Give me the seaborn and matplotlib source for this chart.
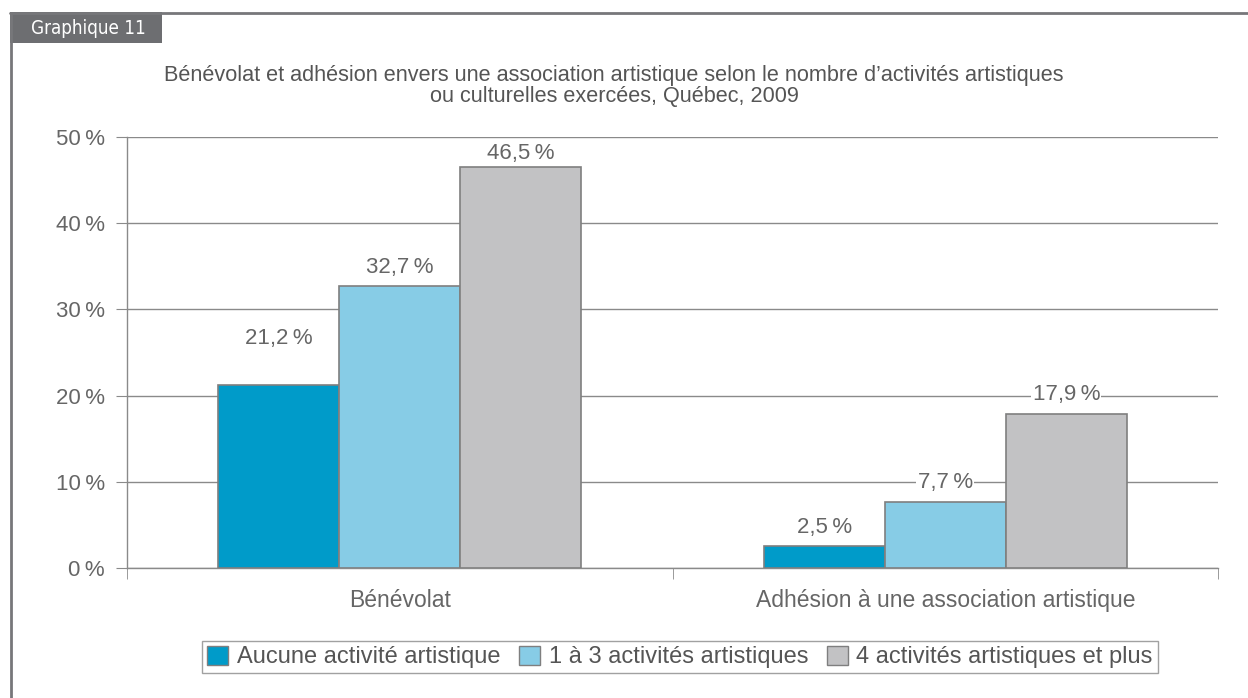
import pandas as pd
import seaborn as sns
import matplotlib.pyplot as plt
from matplotlib.lines import Line2D
from matplotlib.patches import Rectangle
from matplotlib.ticker import FuncFormatter, FixedLocator

categories = ["Bénévolat", "Adhésion à une association artistique"]
groupes = ["Aucune activité artistique", "1 à 3 activités artistiques", "4 activités artistiques et plus"]
aucune = [21.2, 2.5]
un_a_trois = [32.7, 7.7]
quatre_plus = [46.5, 17.9]
couleurs = ["#009bc9", "#87cce6", "#c2c2c4"]

rows = []
for g, vals in zip(groupes, [aucune, un_a_trois, quatre_plus]):
    for c, v in zip(categories, vals):
        rows.append({"categorie": c, "groupe": g, "valeur": v})
df = pd.DataFrame(rows)

sns.set_style("white")
plt.rcParams['font.family'] = ['Liberation Sans', 'DejaVu Sans']
gris = "#666666"
ligne = "#8a8a8a"
W, H = 1248, 698

fig = plt.figure(figsize=(W / 100, H / 100), dpi=100)
ax = fig.add_axes([127 / W, 1 - 568 / H, (1218 - 127) / W, (568 - 137) / H])

sns.barplot(data=df, x="categorie", y="valeur", hue="groupe", hue_order=groupes,
            order=categories, palette=couleurs, saturation=1, width=0.666, gap=0,
            edgecolor="#7f7f7f", linewidth=1.2, ax=ax, zorder=3)

ax.set_ylim(0, 50)
ax.set_xlim(-0.5, 1.5)
ax.set_yticks([0, 10, 20, 30, 40, 50])
ax.yaxis.set_major_formatter(FuncFormatter(lambda v, p: f"{int(v)}\u2009%"))
ax.grid(axis="y", color=ligne, linewidth=1, zorder=0)
ax.set_axisbelow(True)
for s in ["top", "right"]:
    ax.spines[s].set_visible(False)
for s in ["left", "bottom"]:
    ax.spines[s].set_color(ligne)
    ax.spines[s].set_linewidth(1)
ax.tick_params(axis="y", length=8, color=ligne, labelsize=16, labelcolor=gris, pad=8, left=True)
ax.tick_params(axis="x", which="major", length=0, labelsize=16.5, labelcolor=gris, pad=15)
ax.xaxis.set_minor_locator(FixedLocator([-0.5, 0.5, 1.5]))
ax.tick_params(axis="x", which="minor", length=8, color=ligne, bottom=True)
ax.set_xlabel("")
ax.set_ylabel("")

# décalage des étiquettes (par groupe, par catégorie), en points
decalage = [[26, 6], [6, 6], [2, 6]]
for cont, pads in zip(ax.containers, decalage):
    for bar, v, p in zip(cont, cont.datavalues, pads):
        lab = f"{v:.1f}".replace(".", ",") + "\u2009%"
        ax.annotate(lab, (bar.get_x() + bar.get_width() / 2, bar.get_height()),
                    xytext=(0, p), textcoords="offset points", ha="center", va="bottom",
                    fontsize=16, color=gris, zorder=4,
                    bbox=dict(facecolor="white", edgecolor="none", pad=1))

ax.get_legend().remove()
handles = [Rectangle((0, 0), 1, 1, facecolor=c, edgecolor="#7f7f7f") for c in couleurs]
leg = fig.legend(handles, groupes, loc="center", bbox_to_anchor=(680 / W, 1 - 657 / H),
                 ncol=3, fontsize=17, frameon=True, fancybox=False, handlelength=0.9,
                 handleheight=0.9, handletextpad=0.35, columnspacing=0.8, borderpad=0.2)
leg.get_frame().set_edgecolor("#8a8a8a")
leg.get_frame().set_linewidth(1)
for t in leg.get_texts():
    t.set_color("#555555")

fig.text(614 / W, 1 - 86 / H,
         "Bénévolat et adhésion envers une association artistique selon le nombre d’activités artistiques\nou culturelles exercées, Québec, 2009",
         ha="center", va="center", fontsize=15.6, color="#555555", linespacing=1.05)

# cadre
fig.add_artist(Line2D([10 / W, 1], [1 - 13 / H, 1 - 13 / H], color="#77777a", linewidth=2))
fig.add_artist(Line2D([11 / W, 11 / W], [1 - 13 / H, 0], color="#77777a", linewidth=2))
fig.add_artist(Rectangle((10 / W, 1 - 43 / H), 152 / W, 31 / H, transform=fig.transFigure,
                         facecolor="#6d6e71", edgecolor="none"))
fig.text(88 / W, 1 - 28 / H, "Graphique 11", ha="center", va="center", fontsize=13.5,
         color="white", family=["DejaVu Sans"], fontstretch="condensed")

fig.savefig("out.png", dpi=100)
